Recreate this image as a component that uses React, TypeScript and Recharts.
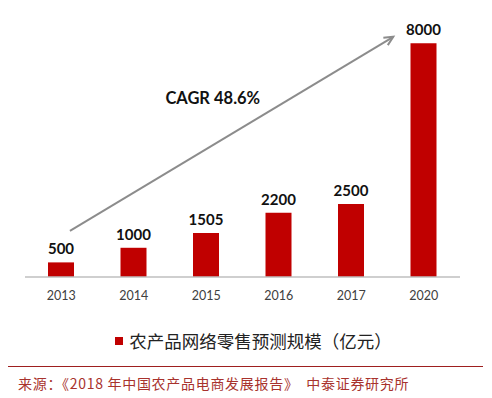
import React from 'react';
import { BarChart, Bar, XAxis, YAxis, LabelList, Legend, ReferenceLine, ReferenceDot } from 'recharts';

const years = ['2013', '2014', '2015', '2016', '2017', '2020'];
const sales = [500, 1000, 1505, 2200, 2500, 8000];
const seriesName = '农产品网络零售预测规模（亿元）';
const cagrText = 'CAGR 48.6%';
const sourceText = '来源：《2018 年中国农产品电商发展报告》  中泰证券研究所';
// annotation arrow in data coordinates (index axis, value axis)
const arrowSegment = [{ x: 0.12, y: 1575 }, { x: 4.58, y: 8220 }];
const cagrPos = { x: 2.09, y: 6130 };

const data = years.map((y, i) => ({ year: y, value: sales[i] }));

const RED = '#C00000';
const latin = 'Lato, "Noto Sans", sans-serif';
const cjk = '"Noto Sans CJK SC", sans-serif';

const ArrowShape = (p: any) => {
  const { x1, y1, x2, y2 } = p;
  const ang = Math.atan2(y2 - y1, x2 - x1);
  const L = 10;
  const a1 = ang + Math.PI - 0.45;
  const a2 = ang + Math.PI + 0.45;
  return (
    <g>
      <line x1={x1} y1={y1} x2={x2} y2={y2} stroke="#8c8c8c" strokeWidth={2} />
      <polyline
        points={`${x2 + L * Math.cos(a1)},${y2 + L * Math.sin(a1)} ${x2},${y2} ${x2 + L * Math.cos(a2)},${y2 + L * Math.sin(a2)}`}
        fill="none"
        stroke="#8c8c8c"
        strokeWidth={2}
      />
    </g>
  );
};

const CagrLabel = (p: any) => {
  const { viewBox } = p;
  const cx = viewBox.x + (viewBox.width || 0) / 2;
  const cy = viewBox.y + (viewBox.height || 0) / 2;
  return (
    <text x={cx} y={cy} textAnchor="middle" dominantBaseline="central" fontFamily={latin} fontWeight="bold" fontSize={16.5} fill="#111">
      {cagrText}
    </text>
  );
};

const LegendContent = () => (
  <div style={{ display: 'flex', justifyContent: 'center', alignItems: 'center', height: 24, paddingLeft: 22 }}>
    <span style={{ width: 8, height: 8, background: RED, display: 'inline-block', marginRight: 6 }} />
    <span style={{ fontFamily: cjk, fontSize: 17.5, color: '#222', lineHeight: '24px' }}>{seriesName}</span>
  </div>
);

export default function App() {
  return (
    <div style={{ position: 'absolute', left: 0, top: 0, width: 492, height: 398, background: '#fff' }}>
      <BarChart width={492} height={398} data={data} margin={{ top: 14, right: 32, left: 25, bottom: 45 }}>
        <XAxis
          dataKey="year"
          axisLine={{ stroke: '#bfbfbf', strokeWidth: 1.5 }}
          tickLine={false}
          tick={{ fill: '#404040', fontSize: 12.5, fontFamily: latin }}
          tickMargin={8}
          height={52}
        />
        <XAxis xAxisId="num" type="number" dataKey="idx" domain={[-0.5, 5.5]} hide allowDataOverflow />
        <YAxis hide domain={[0, 9000]} />
        <Bar dataKey="value" fill={RED} barSize={26} isAnimationActive={false}>
          <LabelList dataKey="value" position="top" offset={8} fill="#111" fontSize={15} fontWeight="bold" fontFamily={latin} />
        </Bar>
        <ReferenceLine xAxisId="num" segment={arrowSegment} shape={ArrowShape} ifOverflow="visible" />
        <ReferenceDot xAxisId="num" x={cagrPos.x} y={cagrPos.y} r={0} fill="none" stroke="none" ifOverflow="visible" label={<CagrLabel />} />
        <Legend verticalAlign="bottom" content={<LegendContent />} />
      </BarChart>
      <div style={{ position: 'absolute', left: 8, top: 366, width: 475, height: 0, borderTop: '1.5px solid #9e1f1f' }} />
      <div style={{ position: 'absolute', left: 18, top: 374, fontFamily: cjk, fontSize: 14, color: '#a8322d', whiteSpace: 'pre', letterSpacing: 0.7, lineHeight: '18px' }}>
        {sourceText}
      </div>
    </div>
  );
}
